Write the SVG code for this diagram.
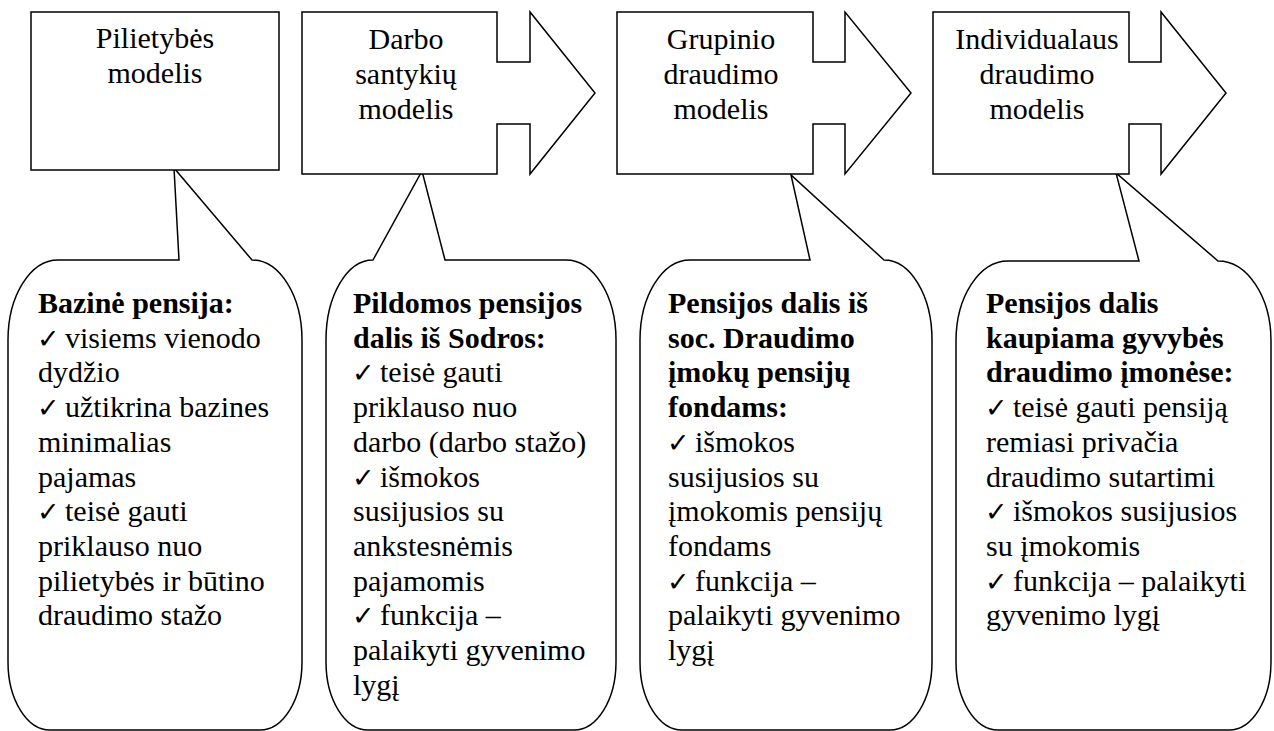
<svg xmlns="http://www.w3.org/2000/svg" width="1274" height="731" viewBox="0 0 1274 731">
<style>
.sh{fill:#fff;stroke:#000;stroke-width:1.5;stroke-linejoin:miter}
.t{font-family:"Liberation Serif","Times New Roman",serif;font-size:30px;fill:#000}
.c{text-anchor:middle}
.b{font-weight:bold}
.ck{font-family:"DejaVu Sans",sans-serif;font-size:27px}
</style>
<rect width="1274" height="731" fill="#fff"/>
<g id="callouts">
<g id="callout1">
<path class="sh" d="M179,260 L174,168 L252,260 A50,80 0 0 1 302,340 V662 A42,68 0 0 1 260,730 H50 A42,68 0 0 1 8,662 V340 A50,80 0 0 1 58,260 Z"/>
<text class="t"><tspan class="b" x="38" y="313">Bazinė pensija:</tspan><tspan class="ck" x="37" y="348">✓</tspan><tspan x="65" y="348">visiems vienodo</tspan><tspan x="38" y="382">dydžio</tspan><tspan class="ck" x="37" y="417">✓</tspan><tspan x="65" y="417">užtikrina bazines</tspan><tspan x="38" y="452">minimalias</tspan><tspan x="38" y="487">pajamas</tspan><tspan class="ck" x="37" y="521">✓</tspan><tspan x="65" y="521">teisė gauti</tspan><tspan x="38" y="556">priklauso nuo</tspan><tspan x="38" y="591">pilietybės ir būtino</tspan><tspan x="38" y="625">draudimo stažo</tspan></text>
</g>
<g id="callout2">
<path class="sh" d="M373,260 L422,171 L445,260 H566 A50,80 0 0 1 616,340 V662 A42,68 0 0 1 574,730 H368 A42,68 0 0 1 326,662 V340 A47,80 0 0 1 373,260 Z"/>
<text class="t"><tspan class="b" x="353" y="313">Pildomos pensijos</tspan><tspan class="b" x="353" y="348">dalis iš Sodros:</tspan><tspan class="ck" x="352" y="382">✓</tspan><tspan x="380" y="382">teisė gauti</tspan><tspan x="353" y="417">priklauso nuo</tspan><tspan x="353" y="452">darbo (darbo stažo)</tspan><tspan class="ck" x="352" y="487">✓</tspan><tspan x="380" y="487">išmokos</tspan><tspan x="353" y="521">susijusios su</tspan><tspan x="353" y="556">ankstesnėmis</tspan><tspan x="353" y="591">pajamomis</tspan><tspan class="ck" x="352" y="625">✓</tspan><tspan x="380" y="625">funkcija –</tspan><tspan x="353" y="660">palaikyti gyvenimo</tspan><tspan x="353" y="695">lygį</tspan></text>
</g>
<g id="callout3">
<path class="sh" d="M810,260 L791,175 L884,260 A48,80 0 0 1 932,340 V662 A42,68 0 0 1 890,730 H682 A42,68 0 0 1 640,662 V340 A50,80 0 0 1 690,260 Z"/>
<text class="t"><tspan class="b" x="668" y="313">Pensijos dalis iš</tspan><tspan class="b" x="668" y="348">soc. Draudimo</tspan><tspan class="b" x="668" y="382">įmokų pensijų</tspan><tspan class="b" x="668" y="417">fondams:</tspan><tspan class="ck" x="667" y="452">✓</tspan><tspan x="695" y="452">išmokos</tspan><tspan x="668" y="487">susijusios su</tspan><tspan x="668" y="521">įmokomis pensijų</tspan><tspan x="668" y="556">fondams</tspan><tspan class="ck" x="667" y="591">✓</tspan><tspan x="695" y="591">funkcija –</tspan><tspan x="668" y="625">palaikyti gyvenimo</tspan><tspan x="668" y="660">lygį</tspan></text>
</g>
<g id="callout4">
<path class="sh" d="M1139,261 L1116,173 L1218,261 A53,80 0 0 1 1271,341 V662 A42,68 0 0 1 1229,730 H998 A42,68 0 0 1 956,662 V341 A52,80 0 0 1 1008,261 Z"/>
<text class="t"><tspan class="b" x="986" y="313">Pensijos dalis</tspan><tspan class="b" x="986" y="348">kaupiama gyvybės</tspan><tspan class="b" x="986" y="382">draudimo įmonėse:</tspan><tspan class="ck" x="985" y="417">✓</tspan><tspan x="1013" y="417">teisė gauti pensiją</tspan><tspan x="986" y="452">remiasi privačia</tspan><tspan x="986" y="487">draudimo sutartimi</tspan><tspan class="ck" x="985" y="521">✓</tspan><tspan x="1013" y="521">išmokos susijusios</tspan><tspan x="986" y="556">su įmokomis</tspan><tspan class="ck" x="985" y="591">✓</tspan><tspan x="1013" y="591">funkcija – palaikyti</tspan><tspan x="986" y="625">gyvenimo lygį</tspan></text>
</g>
</g>
<g id="connectors"></g>
<g id="box1">
<rect class="sh" x="31" y="12" width="248" height="158"/>
<text class="t c"><tspan x="155" y="48">Pilietybės</tspan><tspan x="155" y="83">modelis</tspan></text>
</g>
<g id="box2">
<path class="sh" d="M302,12 H497 V62 H530 V12 L595,93 L530,174 V124 H497 V174 H302 Z"/>
<text class="t c"><tspan x="406" y="49">Darbo</tspan><tspan x="406" y="84">santykių</tspan><tspan x="406" y="119">modelis</tspan></text>
</g>
<g id="box3">
<path class="sh" d="M617,12 H813 V62 H845 V12 L911,93 L845,174 V124 H813 V174 H617 Z"/>
<text class="t c"><tspan x="721" y="49">Grupinio</tspan><tspan x="721" y="84">draudimo</tspan><tspan x="721" y="119">modelis</tspan></text>
</g>
<g id="box4">
<path class="sh" d="M933,12 H1129 V62 H1161 V12 L1226,93 L1161,174 V124 H1129 V174 H933 Z"/>
<text class="t c"><tspan x="1037" y="49">Individualaus</tspan><tspan x="1037" y="84">draudimo</tspan><tspan x="1037" y="119">modelis</tspan></text>
</g>
</svg>
